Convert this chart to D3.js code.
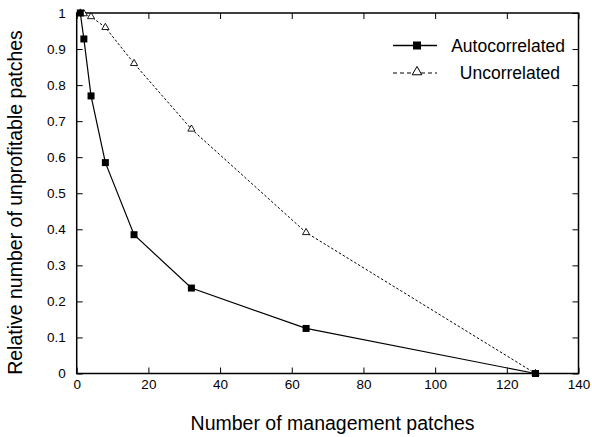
<!DOCTYPE html>
<html><head><meta charset="utf-8">
<script src="https://cdn.jsdelivr.net/npm/d3@7"></script>
<style>body{margin:0;background:#fff}svg{display:block}text{font-family:"Liberation Sans",Arial,sans-serif;fill:#000}</style>
</head><body><svg id="c" width="592" height="437"></svg>
<script>
const xPatches = [1, 2, 4, 8, 16, 32, 64, 128];
const autoValues = [1.0, 0.928, 0.77, 0.585, 0.385, 0.237, 0.125, 0.0];
const uncorrValues = [1.0, 0.998, 0.99, 0.96, 0.86, 0.678, 0.391, 0.0];
const xTicks = [0, 20, 40, 60, 80, 100, 120, 140];
const yTicks = [0, 0.1, 0.2, 0.3, 0.4, 0.5, 0.6, 0.7, 0.8, 0.9, 1];
const seriesNames = ["Autocorrelated", "Uncorrelated"];
const xTitle = "Number of management patches";
const yTitle = "Relative number of unprofitable patches";

const svg = d3.select("#c");
const L = 76.7, R = 578.5, T = 13, B = 373.5;
const x = d3.scaleLinear().domain([0, 140]).range([L, R]);
const y = d3.scaleLinear().domain([0, 1]).range([B, T]);

// frame
svg.append("rect").attr("x", L).attr("y", T).attr("width", R - L).attr("height", B - T)
  .attr("fill", "none").attr("stroke", "#000").attr("stroke-width", 1.5);

const tl = 6;
const fmtY = d => d === 0 ? "0" : d === 1 ? "1" : d3.format(".1f")(d);
const gx = svg.append("g").attr("transform", `translate(0,${B})`)
  .call(d3.axisBottom(x).tickValues(xTicks).tickSize(-tl).tickPadding(9).tickFormat(d3.format("d")));
const gxt = svg.append("g").attr("transform", `translate(0,${T})`)
  .call(d3.axisTop(x).tickValues(xTicks).tickSize(-tl).tickFormat(""));
const gy = svg.append("g").attr("transform", `translate(${L},0)`)
  .call(d3.axisLeft(y).tickValues(yTicks).tickSize(-tl).tickPadding(11).tickFormat(fmtY));
const gyr = svg.append("g").attr("transform", `translate(${R},0)`)
  .call(d3.axisRight(y).tickValues(yTicks).tickSize(-tl).tickFormat(""));
[gx, gxt, gy, gyr].forEach(g => {
  g.select(".domain").remove();
  g.selectAll("line").attr("stroke", "#000").attr("stroke-width", 1);
  g.selectAll("text").attr("font-size", 13.5).attr("font-family", '"Liberation Sans",Arial,sans-serif');
});
gx.selectAll("text").attr("dy", "0.5em");

const line = d3.line().x((d, i) => x(xPatches[i])).y(d => y(d));

// Uncorrelated
svg.append("path").datum(uncorrValues).attr("d", line).attr("fill", "none")
  .attr("stroke", "#000").attr("stroke-width", 1).attr("stroke-dasharray", "2.5,2");
const tri = d3.symbol().type(d3.symbolTriangle).size(22);
svg.append("g").selectAll("path").data(uncorrValues).join("path")
  .attr("d", tri).attr("transform", (d, i) => `translate(${x(xPatches[i])},${y(d)})`)
  .attr("fill", "#fff").attr("stroke", "#000").attr("stroke-width", 0.9);

// Autocorrelated
svg.append("path").datum(autoValues).attr("d", line).attr("fill", "none")
  .attr("stroke", "#000").attr("stroke-width", 1.2);
svg.append("g").selectAll("rect").data(autoValues).join("rect")
  .attr("x", (d, i) => x(xPatches[i]) - 3.5).attr("y", d => y(d) - 3.5)
  .attr("width", 7).attr("height", 7).attr("fill", "#000");

// legend
const lg = svg.append("g");
lg.append("line").attr("x1", 393).attr("x2", 437).attr("y1", 45.5).attr("y2", 45.5)
  .attr("stroke", "#000").attr("stroke-width", 1.6);
lg.append("rect").attr("x", 413).attr("y", 41.5).attr("width", 8).attr("height", 8).attr("fill", "#000");
lg.append("text").attr("x", 565).attr("y", 45.5).attr("dy", "0.35em").attr("text-anchor", "end")
  .attr("font-size", 17.5).text(seriesNames[0]);
lg.append("line").attr("x1", 393).attr("x2", 437).attr("y1", 73).attr("y2", 73)
  .attr("stroke", "#000").attr("stroke-width", 1.2).attr("stroke-dasharray", "4,3");
lg.append("path").attr("d", d3.symbol().type(d3.symbolTriangle).size(40))
  .attr("transform", "translate(417,72)").attr("fill", "#fff").attr("stroke", "#000").attr("stroke-width", 1);
lg.append("text").attr("x", 560).attr("y", 73).attr("dy", "0.35em").attr("text-anchor", "end")
  .attr("font-size", 17.5).text(seriesNames[1]);

// titles
svg.append("text").attr("x", (L + R) / 2 + 5).attr("y", 430).attr("text-anchor", "middle")
  .attr("font-size", 19.5).text(xTitle);
svg.append("text").attr("transform", `translate(22,${(20 + 385) / 2}) rotate(-90)`)
  .attr("text-anchor", "middle").attr("font-size", 19.5).text(yTitle);
</script></body></html>
